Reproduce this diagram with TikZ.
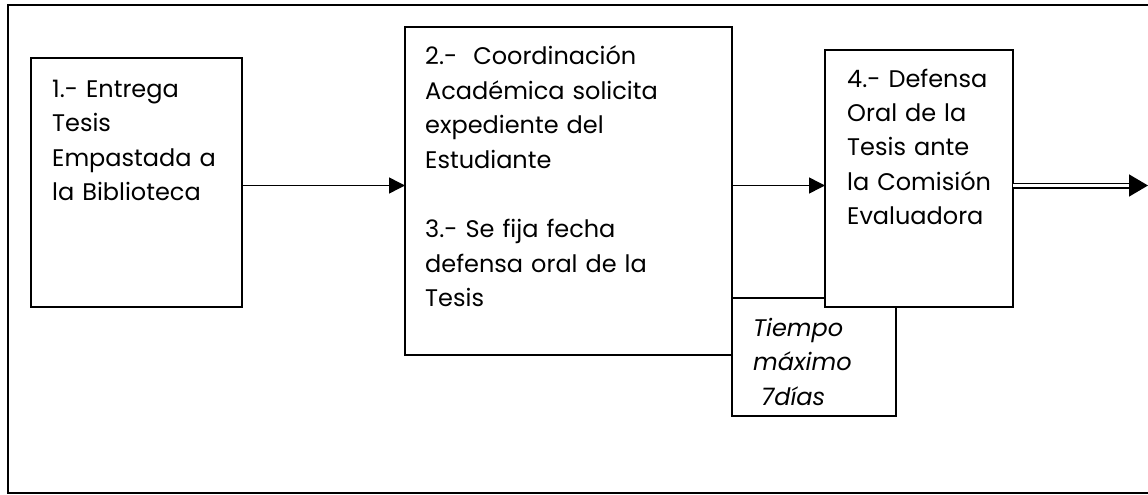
\documentclass[tikz,border=0pt]{standalone}
\usepackage{fontspec}
\setmainfont{Poppins}
\usetikzlibrary{arrows.meta}
\tikzstyle{box}=[rectangle,draw,fill=white,line width=1.9pt,inner sep=0pt,outer sep=0pt,anchor=north west]
\tikzstyle{boxtext}=[inner sep=0pt,anchor=base west,text width=310pt,align=left,font=\fontsize{24}{34.5}\selectfont]
\tikzstyle{flow}=[draw,line width=1.5pt,-{Triangle[length=16pt,width=16pt]}]

\begin{document}
\begin{tikzpicture}[x=1pt,y=-1pt]
                 \useasboundingbox (0,0) rectangle (1148,495);
                 \clip (0,0) rectangle (1148,495);
                 % outer frame
                 \draw[line width=2.4pt] (8,5) rectangle (1170,493);
                 \coordinate (lvl) at (0,185.5);
                 \coordinate (out) at (1148,185.5);
                 \node[box,minimum width=211pt,minimum height=249pt] (box1) at (31,58) {};
                 \node[box,minimum width=327pt,minimum height=328pt] (box2) at (405,27) {};
                 \node[box,minimum width=164pt,minimum height=118pt] (tiempo) at (732,298) {};
                 \node[box,minimum width=188pt,minimum height=257pt] (box4) at (825,50) {};
                 \node[boxtext] (t1) at (52,97) {1.- Entrega\\Tesis\\Empastada a\\la Biblioteca};
                 \node[boxtext] (t2) at (425,65) {2.-~~Coordinación\\Académica solicita\\expediente del\\Estudiante\\[34.5pt]3.- Se fija fecha\\defensa oral de la\\Tesis};
                 \node[boxtext] (t4) at (847,87) {4.- Defensa\\Oral de la\\Tesis ante\\la Comisión\\Evaluadora};
                 \node[boxtext,font=\fontsize{24}{34.5}\selectfont\itshape] (tt) at (753,336) {Tiempo\\máximo\\~7días};
                 \draw[flow] (box1.east |- lvl) -- (box2.west |- lvl);
                 \draw[flow] (box2.east |- lvl) -- (box4.west |- lvl);
                 \draw[line width=1.5pt,double,double distance=3pt,-{Triangle[length=19pt,width=22pt]}] (box4.east |- lvl) -- (out);
            \end{tikzpicture}
\end{document}
